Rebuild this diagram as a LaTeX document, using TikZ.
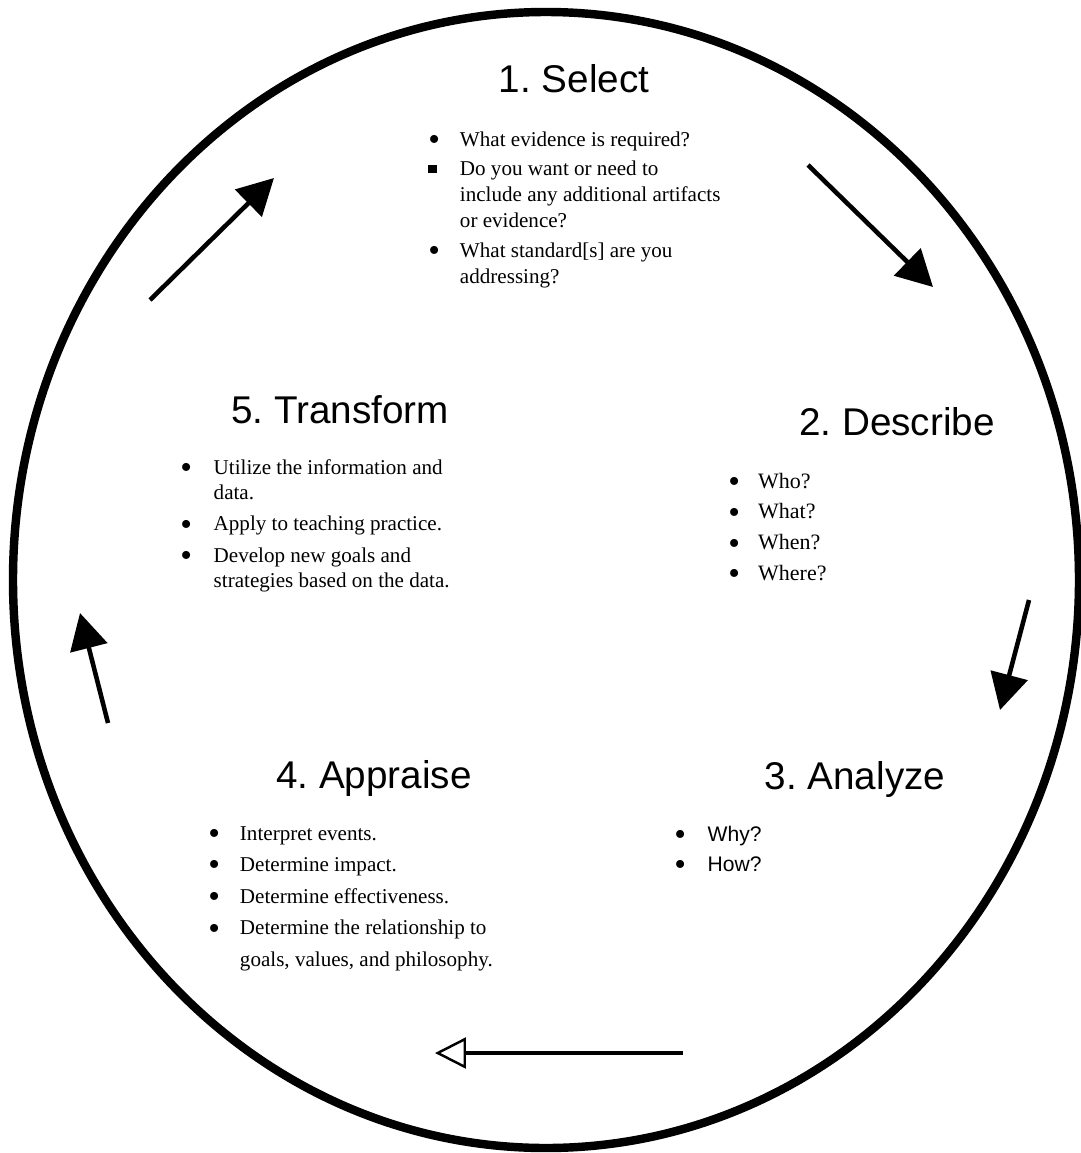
\documentclass[tikz,border=0pt]{standalone}
\usepackage{fontspec}
\setmainfont{Liberation Serif}
\newfontfamily\headfont{Liberation Sans}
\usetikzlibrary{arrows.meta}
\frenchspacing

\newcommand{\rdbul}{\smash{\raisebox{-2.4pt}{\fontsize{19}{19}\selectfont\textbullet}}}
\newcommand{\sqbul}{\raisebox{1.5pt}{\rule{4.8pt}{4.8pt}}}

\begin{document}
\begin{tikzpicture}[x=0.02cm,y=-0.02cm,
                      title node/.style={anchor=base,inner sep=0pt,
                      font=\headfont\fontsize{22}{26}\selectfont},
                      list node/.style={anchor=base west,inner sep=0pt,align=left},
                      cycle arrow/.style={line width=2.6pt,
                      -{Triangle[length=0.72cm,width=0.75cm]}},
                      open arrow/.style={line width=2.6pt,
                      -{Triangle[open,length=0.62cm,width=0.62cm,line width=1.4pt]}}
                     ]
   \useasboundingbox (0,0) rectangle (1080,1153);

   % the cycle
   \draw[line width=4.8pt] (546,580) ellipse [x radius=533, y radius=568];

   % step titles
   \node[title node] (select)    at (574,92)  {1. Select};
   \node[title node] (describe)  at (897,435) {2. Describe};
   \node[title node] (analyze)   at (855,789) {3. Analyze};
   \node[title node] (appraise)  at (374,788) {4. Appraise};
   \node[title node] (transform) at (340,423) {5. Transform};

   % questions under each step
   \node[list node] (select list) at (428,146) {\fontsize{12}{14.7}\selectfont
     \begin{tabular}[t]{@{}p{18pt}@{}l@{}}
     \rdbul & What evidence is required?\\[2.3pt]
     \sqbul & Do you want or need to\\
            & include any additional artifacts\\
            & or evidence?\\[2.3pt]
     \rdbul & What standard[s] are you\\
            & addressing?
     \end{tabular}};

   \node[list node] (describe list) at (728,488) {\fontsize{12.5}{17.6}\selectfont
     \begin{tabular}[t]{@{}p{17pt}@{}l@{}}
     \rdbul & Who?\\
     \rdbul & What?\\
     \rdbul & When?\\
     \rdbul & Where?
     \end{tabular}};

   \node[list node] (analyze list) at (674,841) {\fontsize{12}{17.5}\selectfont
     \begin{tabular}[t]{@{}p{19pt}@{}l@{}}
     \rdbul & \headfont Why?\\
     \rdbul & \headfont How?
     \end{tabular}};

   \node[list node] (appraise list) at (208,840) {\fontsize{12}{18}\selectfont
     \begin{tabular}[t]{@{}p{18pt}@{}l@{}}
     \rdbul & Interpret events.\\
     \rdbul & Determine impact.\\
     \rdbul & Determine effectiveness.\\
     \rdbul & Determine the relationship to\\
            & goals, values, and philosophy.
     \end{tabular}};

   \node[list node] (transform list) at (180,474) {\fontsize{12}{14.5}\selectfont
     \begin{tabular}[t]{@{}p{19pt}@{}l@{}}
     \rdbul & Utilize the information and\\
            & data.\\[3.4pt]
     \rdbul & Apply to teaching practice.\\[3.4pt]
     \rdbul & Develop new goals and\\
            & strategies based on the data.
     \end{tabular}};

   % arrow ends between the steps
   \coordinate (s12) at (808,165);  \coordinate (e12) at (933,287);
   \coordinate (s23) at (1029,600); \coordinate (e23) at (1000,710);
   \coordinate (s34) at (683,1053); \coordinate (e34) at (435,1053);
   \coordinate (s45) at (108,723);  \coordinate (e45) at (80,613);
   \coordinate (s51) at (150,300);  \coordinate (e51) at (274,178);

   \draw[cycle arrow] (s12) -- (e12);
   \draw[cycle arrow] (s23) -- (e23);
   \draw[open arrow]  (s34) -- (e34);
   \draw[cycle arrow] (s45) -- (e45);
   \draw[cycle arrow] (s51) -- (e51);
\end{tikzpicture}
\end{document}
